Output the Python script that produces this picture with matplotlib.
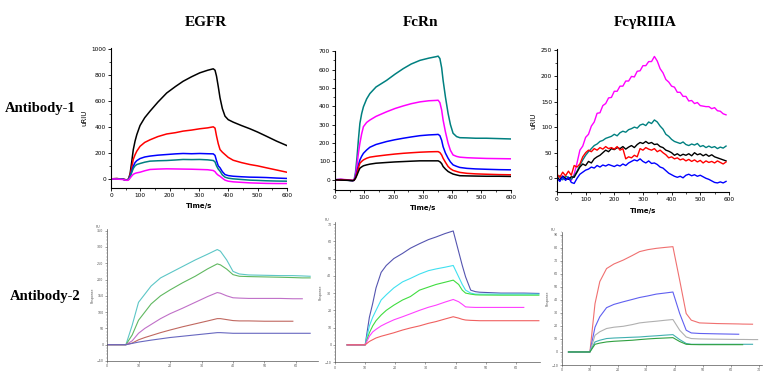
import numpy as np
import matplotlib
matplotlib.use('Agg')
from matplotlib import pyplot as plt
from matplotlib.ticker import MultipleLocator

# ---- Antibody-1 / EGFR ----
t_egfr = [0, 20, 40, 50, 55, 60, 65, 70, 76, 82, 88, 99, 115, 133, 160, 190, 220, 246, 275, 303,
          330, 349, 355, 360, 366, 372, 380, 389, 400, 417, 445, 474, 500, 530, 565, 600]
egfr_black = [0, 2, -3, -8, -10, 0, 40, 120, 225, 290, 340, 410, 470, 520, 590, 660, 710, 750, 785, 815,
              835, 846, 835, 790, 710, 623, 540, 482, 455, 436, 410, 385, 360, 328, 290, 256]
egfr_red = [0, 2, -2, -6, -8, 0, 30, 80, 150, 185, 213, 250, 280, 300, 325, 345, 355, 367, 375, 385,
            392, 400, 390, 330, 270, 225, 205, 187, 165, 143, 125, 110, 100, 85, 68, 51]
egfr_blue = [0, 0, -3, -8, -10, -2, 20, 55, 97, 125, 140, 156, 168, 175, 182, 187, 192, 195, 193, 195,
             193, 192, 180, 140, 100, 85, 55, 33, 25, 20, 16, 13, 12, 10, 6, 3]
egfr_teal = [0, 0, -3, -8, -10, -3, 15, 45, 80, 100, 110, 118, 128, 136, 139, 141, 145, 149, 148, 149,
             146, 141, 130, 100, 75, 59, 30, 13, 5, 0, -5, -10, -12, -15, -17, -18]
egfr_magenta = [0, -2, -5, -10, -12, -8, 5, 20, 35, 42, 46, 51, 62, 72, 75, 77, 76, 75, 74, 72,
                70, 64, 55, 40, 28, 20, 5, -10, -18, -23, -27, -31, -33, -35, -36, -36]

# ---- Antibody-1 / FcRn ----
t_fcrn = [0, 20, 40, 60, 65, 70, 75, 80, 85, 91, 97, 108, 119, 140, 176, 205, 233, 260, 290, 320,
          345, 352, 358, 364, 369, 377, 386, 394, 403, 415, 426, 450, 480, 517, 560, 602]
fcrn_teal = [0, 2, -2, -5, -3, 40, 120, 220, 307, 360, 397, 440, 469, 505, 541, 575, 605, 630, 650, 662,
             670, 673, 660, 610, 541, 450, 361, 300, 253, 235, 229, 228, 226, 226, 224, 222]
fcrn_magenta = [0, 3, 0, -3, -3, 25, 80, 145, 199, 250, 289, 312, 325, 345, 370, 388, 402, 414, 424, 430,
                432, 433, 420, 380, 325, 260, 199, 160, 135, 127, 123, 120, 118, 116, 115, 114]
fcrn_blue = [0, 0, -2, -5, -3, 15, 45, 80, 108, 128, 144, 162, 177, 192, 208, 218, 226, 233, 240, 244,
             246, 247, 240, 215, 180, 145, 117, 97, 81, 73, 67, 62, 59, 57, 55, 54]
fcrn_red = [0, 0, -2, -4, -3, 10, 35, 65, 90, 100, 108, 117, 123, 128, 135, 140, 144, 147, 150, 152,
            153, 153, 148, 135, 117, 95, 72, 60, 51, 45, 40, 35, 32, 30, 28, 27]
fcrn_black = [0, -2, -3, -5, -3, 8, 25, 45, 63, 70, 76, 81, 85, 90, 94, 97, 99, 101, 103, 103,
              103, 103, 98, 88, 72, 58, 45, 38, 31, 26, 22, 21, 20, 19, 19, 18]

# ---- Antibody-1 / FcgRIIIA (noisy, read every 10 s) ----
t_fcg = list(range(0, 600, 10))
fcg_magenta = [3, -5, 5, -3, 2, -4, 8, 30, 55, 63, 80, 86, 102, 110, 127, 128, 142, 146, 157, 158,
               170, 170, 180, 180, 190, 190, 199, 198, 209, 210, 220, 220, 228, 228, 238, 229, 214, 206, 193, 188,
               180, 178, 168, 168, 160, 160, 151, 152, 146, 148, 142, 141, 140, 140, 136, 138, 132, 131, 126, 124]
fcg_teal = [0, 5, -3, 4, 2, -2, 5, 14, 25, 36, 45, 52, 58, 64, 67, 72, 74, 78, 80, 82,
            86, 83, 89, 92, 90, 95, 97, 100, 98, 104, 106, 103, 110, 107, 114, 110, 102, 96, 86, 82,
            76, 72, 70, 68, 71, 66, 64, 67, 65, 68, 62, 64, 60, 63, 60, 62, 58, 61, 59, 63]
fcg_black = [2, -3, 4, 0, -2, 3, 2, 12, 22, 28, 25, 33, 30, 38, 42, 45, 50, 55, 52, 58,
             56, 60, 58, 62, 57, 61, 64, 60, 66, 70, 68, 72, 68, 70, 66, 67, 62, 60, 55, 53,
             50, 45, 48, 44, 47, 45, 48, 44, 50, 46, 48, 44, 47, 43, 46, 42, 40, 38, 36, 34]
fcg_red = [8, 2, 12, 5, 14, 6, 25, 22, 28, 42, 50, 55, 52, 58, 55, 60, 57, 62, 58, 60,
           57, 62, 55, 58, 38, 42, 40, 45, 42, 58, 55, 60, 57, 55, 58, 52, 55, 50, 46, 40,
           42, 38, 40, 36, 38, 34, 37, 33, 36, 32, 35, 30, 34, 31, 33, 30, 34, 31, 28, 32]
fcg_blue = [0, -6, 3, -4, 2, -8, -10, 0, 8, 12, 16, 18, 22, 20, 25, 22, 26, 24, 27, 25,
            23, 26, 24, 28, 25, 30, 33, 36, 34, 38, 33, 30, 34, 29, 30, 27, 22, 20, 15, 10,
            7, 4, 2, 4, 1, 6, 8, 5, 7, 4, 6, 3, 0, -2, -5, -8, -9, -7, -9, -6]

# ---- Antibody-2 / EGFR ----
t_b1 = [0, 3, 6, 8, 10, 12, 14, 17, 20, 24, 28, 32, 35, 36, 38, 40, 42, 45, 50, 55, 59, 62, 64.5]
b1_cyan = [0, 0, 0, 60, 130, 155, 180, 205, 220, 240, 260, 278, 292, 287, 260, 225, 217, 214, 213, 212, 212, 211, 210]
b1_green = [0, 0, 0, 30, 75, 100, 125, 150, 168, 190, 210, 233, 248, 245, 232, 215, 210, 209, 208, 207, 206, 205, 205]
b1_purple = [0, 0, 0, 12, 35, 50, 62, 80, 95, 112, 130, 148, 160, 158, 150, 144, 143, 142, 142, 142, 141, 141, None]
b1_brown = [0, 0, 0, 5, 15, 22, 28, 37, 45, 55, 64, 73, 80, 80, 77, 74, 73, 73, 72, 72, 72, None, None]
b1_blue = [0, 0, 0, 4, 8, 11, 14, 18, 22, 26, 30, 34, 37, 37, 36, 35, 35, 35, 35, 35, 35, 35, 35]

# ---- Antibody-2 / FcRn ----
t_b2 = [4, 7, 10, 11.4, 12.5, 13.6, 15.3, 17, 19.5, 22.4, 25, 28, 31, 33.5, 36.5, 39.2,
        41, 42.2, 43.3, 45, 46.6, 48, 55, 62.6, 67.6]
b2_slate = [0, 0, 0, 16, 24, 33, 42, 46, 50, 53, 56, 58.6, 61, 62.5, 64.5, 66,
            54, 46, 39.4, 31.7, 30.8, 30.5, 30, 30, 29.8]
b2_cyan = [0, 0, 0, 11, 16, 20, 26, 29, 33, 36.5, 38.5, 41, 43, 44, 45, 46,
           39.4, 35, 31.7, 30, 29.4, 29.4, 29.4, 29.4, 29.4]
b2_green = [0, 0, 0, 7, 11, 14, 17.3, 20, 23, 26, 28, 31.7, 33.5, 35, 36.3, 37.5,
            35, 31.7, 30, 29.4, 29, 28.9, 28.8, 28.8, 28.8]
b2_magenta = [0, 0, 0, 5, 7.5, 9, 11, 12.5, 14.5, 16.3, 18, 20, 21.8, 23, 24.8, 26.3,
              25, 23.5, 22, 21.8, 21.7, 21.7, 21.7, 21.7, None]
b2_red = [0, 0, 0, 2, 3, 4, 5, 5.8, 7, 8.6, 9.8, 11, 12.5, 13.5, 15, 16.3,
          15.5, 14.8, 14.4, 14.2, 14.1, 14, 14, 14, 14]

# ---- Antibody-2 / FcgRIIIA ----
t_b3 = [2.4, 6, 10, 11.8, 13.5, 15.9, 18.5, 21.8, 25, 27.6, 30.5, 33.5, 36.5, 39.4,
        41.8, 44.1, 45.9, 48.8, 55, 62.7, 64.1, 67.6, 69.4]
b3_red = [0, 0, 0, 37, 54, 64, 67.5, 70.5, 74, 77, 78.5, 79.5, 80.2, 80.8,
          55, 29.5, 24.4, 22.3, 21.8, 21.5, 21.4, 21.3, None]
b3_blue = [0, 0, 0, 19, 27, 34, 36.5, 38.5, 40.3, 41.8, 43, 44.4, 45.2, 46,
           29.5, 16.7, 14.6, 14.2, 13.9, 13.6, None, None, None]
b3_gray = [0, 0, 0, 12.8, 15.5, 18, 19, 19.7, 21, 22.3, 23, 23.6, 24.3, 24.9,
           16.7, 11.5, 10.3, 10, 9.8, 9.6, 9.6, 9.5, 9.5]
b3_teal = [0, 0, 0, 7.7, 9, 10.3, 10.7, 11, 11.3, 11.5, 12, 12.4, 12.9, 13.3,
           9.5, 6.5, 5.9, 5.9, 5.9, 5.9, 5.9, 5.9, None]
b3_green = [0, 0, 0, 5.9, 6.8, 7.7, 8.2, 8.6, 9, 9.5, 10, 10.4, 10.7, 11,
            8, 5.9, 5.7, 5.6, 5.6, 5.6, 5.6, None, None]

col_titles = ['EGFR', 'FcRn', 'Fc\u03b3RIIIA']
row_titles = ['Antibody-1', 'Antibody-2']


def arr(v):
    return np.array([np.nan if x is None else x for x in v], dtype=float)


fig = plt.figure(figsize=(7.71, 3.82), dpi=100)
serif = ['Liberation Serif', 'DejaVu Serif']


def style_top(ax, xlim, ylim, ymaj, ymin, ylabel=True):
    ax.set_xlim(*xlim)
    ax.set_ylim(*ylim)
    for s in ['top', 'right']:
        ax.spines[s].set_visible(False)
    for s in ['left', 'bottom']:
        ax.spines[s].set_linewidth(0.8)
    ax.xaxis.set_major_locator(MultipleLocator(100))
    ax.xaxis.set_minor_locator(MultipleLocator(50))
    ax.yaxis.set_major_locator(MultipleLocator(ymaj))
    ax.yaxis.set_minor_locator(MultipleLocator(ymin))
    ax.tick_params(which='major', length=2, width=0.6, labelsize=4.2, pad=1.5)
    ax.tick_params(which='minor', length=1.2, width=0.5)
    ax.set_xlabel('Time/s', fontsize=5, fontweight='bold', labelpad=4)
    if ylabel:
        ax.set_ylabel('uRIU', fontsize=5, labelpad=3)


def style_bot(ax, xlim, ylim, ymaj):
    ax.set_xlim(*xlim)
    ax.set_ylim(*ylim)
    for s in ['top', 'right']:
        ax.spines[s].set_visible(False)
    for s in ['left', 'bottom']:
        ax.spines[s].set_linewidth(0.5)
        ax.spines[s].set_color('#555555')
    ax.xaxis.set_major_locator(MultipleLocator(10))
    ax.yaxis.set_major_locator(MultipleLocator(ymaj))
    ax.yaxis.set_minor_locator(MultipleLocator(ymaj / 5))
    ax.tick_params(which='major', length=1.5, width=0.4, labelsize=2.3, pad=1,
                   colors='#555555')
    ax.tick_params(which='minor', length=0.8, width=0.3, colors='#777777')
    ax.set_ylabel('Response', fontsize=2.3, color='#555555', labelpad=1.5)
    ax.text(-0.03, 1.0, 'RU', transform=ax.transAxes, fontsize=2.3,
            color='#555555', ha='right', va='bottom')


# top row
ax1 = fig.add_axes([0.144, 0.508, 0.228, 0.366])
ax1.plot(t_egfr, egfr_black, color='black', lw=1.1)
ax1.plot(t_egfr, egfr_red, color='red', lw=1.1)
ax1.plot(t_egfr, egfr_blue, color='blue', lw=1.1)
ax1.plot(t_egfr, egfr_teal, color='#008080', lw=1.1)
ax1.plot(t_egfr, egfr_magenta, color='magenta', lw=1.1)
style_top(ax1, (0, 600), (-70, 1005), 200, 100)

ax2 = fig.add_axes([0.4345, 0.503, 0.228, 0.364])
ax2.plot(t_fcrn, fcrn_teal, color='#008080', lw=1.1)
ax2.plot(t_fcrn, fcrn_magenta, color='magenta', lw=1.1)
ax2.plot(t_fcrn, fcrn_blue, color='blue', lw=1.1)
ax2.plot(t_fcrn, fcrn_red, color='red', lw=1.1)
ax2.plot(t_fcrn, fcrn_black, color='black', lw=1.1)
style_top(ax2, (0, 600), (-55, 702), 100, 50, ylabel=False)

ax3 = fig.add_axes([0.7224, 0.497, 0.223, 0.374])
ax3.plot(t_fcg, fcg_magenta, color='magenta', lw=1.0)
ax3.plot(t_fcg, fcg_teal, color='#008080', lw=1.0)
ax3.plot(t_fcg, fcg_black, color='black', lw=1.0)
ax3.plot(t_fcg, fcg_red, color='red', lw=1.0)
ax3.plot(t_fcg, fcg_blue, color='blue', lw=1.0)
style_top(ax3, (0, 600), (-27, 252), 50, 25)

# bottom row
ax4 = fig.add_axes([0.1388, 0.055, 0.2737, 0.3455])
ax4.plot(t_b1, arr(b1_cyan), color='#5cc6c6', lw=0.8)
ax4.plot(t_b1, arr(b1_green), color='#60b860', lw=0.8)
ax4.plot(t_b1, arr(b1_purple), color='#c070c8', lw=0.8)
ax4.plot(t_b1, arr(b1_brown), color='#c06860', lw=0.8)
ax4.plot(t_b1, arr(b1_blue), color='#6868c0', lw=0.8)
style_bot(ax4, (0, 67), (-50, 355), 50)

ax5 = fig.add_axes([0.4345, 0.052, 0.266, 0.366])
ax5.plot(t_b2, arr(b2_slate), color='#5555b0', lw=0.8)
ax5.plot(t_b2, arr(b2_cyan), color='#40e0f0', lw=0.8)
ax5.plot(t_b2, arr(b2_green), color='#40dd40', lw=0.8)
ax5.plot(t_b2, arr(b2_magenta), color='#ff40ff', lw=0.8)
ax5.plot(t_b2, arr(b2_red), color='#f06060', lw=0.8)
style_bot(ax5, (0, 68), (-10, 71), 10)

ax6 = fig.add_axes([0.7285, 0.0445, 0.26, 0.348])
ax6.plot(t_b3, arr(b3_red), color='#f07070', lw=0.8)
ax6.plot(t_b3, arr(b3_blue), color='#6060f0', lw=0.8)
ax6.plot(t_b3, arr(b3_gray), color='#b0b0b0', lw=0.8)
ax6.plot(t_b3, arr(b3_teal), color='#40b0b0', lw=0.8)
ax6.plot(t_b3, arr(b3_green), color='#30a040', lw=0.8)
style_bot(ax6, (0, 71), (-10, 92), 10)

# titles
for x, s in zip([0.267, 0.546, 0.837], col_titles):
    fig.text(x, 0.942, s, ha='center', va='center', fontsize=11,
             fontweight='bold', family=serif)
for x, y, s in zip([0.052, 0.059], [0.717, 0.225], row_titles):
    fig.text(x, y, s, ha='center', va='center', fontsize=10.5,
             fontweight='bold', family=serif)

fig.savefig('out.png', dpi=100)
